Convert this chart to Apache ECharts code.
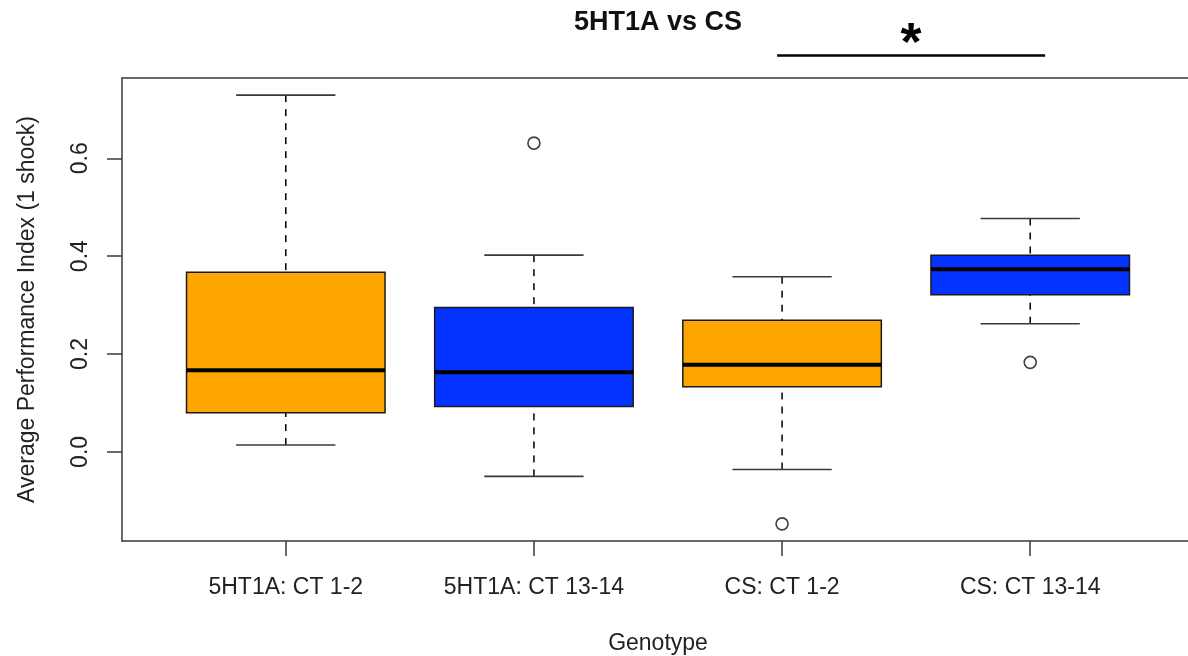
<!DOCTYPE html>
<html>
<head>
<meta charset="utf-8">
<script src="https://cdn.jsdelivr.net/npm/echarts@6/dist/echarts.min.js"></script>
<style>
  html, body { margin: 0; padding: 0; background: #fff; }
  #chart { width: 1188px; height: 656px; }
</style>
</head>
<body>
<div id="chart"></div>
<script>
// ---- data ----
const categories   = ['5HT1A: CT 1-2', '5HT1A: CT 13-14', 'CS: CT 1-2', 'CS: CT 13-14'];
const lowerWhisker = [0.014, -0.050, -0.036, 0.262];
const quartile1    = [0.080,  0.093,  0.133, 0.321];
const medians      = [0.167,  0.163,  0.178, 0.373];
const quartile3    = [0.367,  0.295,  0.269, 0.402];
const upperWhisker = [0.729,  0.402,  0.358, 0.477];
const outlierGroup = [2, 3, 4];
const outlierValue = [0.631, -0.147, 0.183];
const yTicks       = [0, 0.2, 0.4, 0.6];
const sigFrom      = 2.98;   // significance bar, x in group units
const sigTo        = 4.06;
const sigLevel     = 0.81;
const sigStarLevel = 0.831;
const sigLabel     = '*';

// ---- styles / layout ----
const FONT = '"Liberation Sans", Arial, Helvetica, sans-serif';
const fills = ['#FFA500', '#0433FF', '#FFA500', '#0433FF'];
const BOX_W = 0.8, CAP_W = 0.4;
const GRID_LEFT = 122, GRID_TOP = 78, GRID_W = 1072, GRID_BOTTOM = 115;
const X_MIN = 0.34, X_MAX = 4.66;   // plot region runs past the right edge of the picture
const Y_MIN = -0.182, Y_MAX = 0.764;
const FRAME = { color: '#3a3a3a', width: 1.5 };

const boxData = categories.map((c, i) =>
  [i + 1, lowerWhisker[i], quartile1[i], medians[i], quartile3[i], upperWhisker[i]]);
const outData = outlierGroup.map((g, i) => [g, outlierValue[i]]);

function renderBox(params, api) {
  const x = api.value(0);
  const lo = api.coord([x, api.value(1)]);
  const q1 = api.coord([x, api.value(2)]);
  const md = api.coord([x, api.value(3)]);
  const q3 = api.coord([x, api.value(4)]);
  const hi = api.coord([x, api.value(5)]);
  const bw = api.size([BOX_W, 0])[0];
  const cw = api.size([CAP_W, 0])[0];
  const cx = md[0];
  const dash = { stroke: '#000', lineWidth: 1.5, lineDash: [7, 7] };
  const cap = { stroke: '#3a3a3a', lineWidth: 1.6 };
  return {
    type: 'group',
    children: [
      { type: 'line', shape: { x1: cx, y1: hi[1], x2: cx, y2: q3[1] }, style: dash },
      { type: 'line', shape: { x1: cx, y1: lo[1], x2: cx, y2: q1[1] }, style: dash },
      { type: 'line', shape: { x1: cx - cw / 2, y1: hi[1], x2: cx + cw / 2, y2: hi[1] }, style: cap },
      { type: 'line', shape: { x1: cx - cw / 2, y1: lo[1], x2: cx + cw / 2, y2: lo[1] }, style: cap },
      { type: 'rect', shape: { x: cx - bw / 2, y: q3[1], width: bw, height: q1[1] - q3[1] },
        style: { fill: fills[params.dataIndex], stroke: '#1a1a1a', lineWidth: 1.5 } },
      { type: 'line', shape: { x1: cx - bw / 2, y1: md[1], x2: cx + bw / 2, y2: md[1] },
        style: { stroke: '#000', lineWidth: 4 } }
    ]
  };
}

function renderSig(params, api) {
  const a = api.coord([api.value(0), api.value(2)]);
  const b = api.coord([api.value(1), api.value(2)]);
  const s = api.coord([(api.value(0) + api.value(1)) / 2, api.value(3)]);
  return {
    type: 'group',
    children: [
      { type: 'line', shape: { x1: a[0], y1: a[1], x2: b[0], y2: b[1] },
        style: { stroke: '#000', lineWidth: 2.6 } },
      { type: 'text', x: s[0], y: s[1],
        style: { text: sigLabel, font: 'bold 54px ' + FONT, fill: '#000',
                 align: 'center', verticalAlign: 'middle' } }
    ]
  };
}

const chart = echarts.init(document.getElementById('chart'), null, { renderer: 'canvas' });
chart.setOption({
  animation: false,
  backgroundColor: '#fff',
  grid: { left: GRID_LEFT, top: GRID_TOP, width: GRID_W, bottom: GRID_BOTTOM,
          show: false, containLabel: false, outerBoundsMode: 'none' },
  graphic: [{
    type: 'text', x: GRID_LEFT + GRID_W / 2, y: 23,
    style: { text: '5HT1A vs CS', font: 'bold 27px ' + FONT, fill: '#111',
             align: 'center', verticalAlign: 'middle' }
  }],
  xAxis: [{
    type: 'value', min: X_MIN, max: X_MAX, position: 'bottom',
    name: 'Genotype', nameLocation: 'middle', nameGap: 91,
    nameTextStyle: { fontFamily: FONT, fontSize: 23, color: '#222' },
    axisLine: { show: true, onZero: false, lineStyle: FRAME },
    splitLine: { show: false },
    axisTick: { show: true, customValues: [1, 2, 3, 4], length: 15, lineStyle: FRAME },
    axisLabel: { customValues: [1, 2, 3, 4], margin: 35,
                 formatter: v => categories[Math.round(v) - 1],
                 fontFamily: FONT, fontSize: 23, color: '#222' }
  }, {
    type: 'value', min: X_MIN, max: X_MAX, position: 'top',
    axisLine: { show: true, onZero: false, lineStyle: FRAME },
    splitLine: { show: false }, axisTick: { show: false }, axisLabel: { show: false }
  }],
  yAxis: {
    type: 'value', min: Y_MIN, max: Y_MAX,
    name: 'Average Performance Index (1 shock)', nameLocation: 'middle', nameGap: 83,
    nameRotate: 90,
    nameTextStyle: { fontFamily: FONT, fontSize: 23, color: '#222' },
    axisLine: { show: true, onZero: false, lineStyle: FRAME },
    splitLine: { show: false },
    axisTick: { show: true, customValues: yTicks, length: 15, lineStyle: FRAME },
    axisLabel: { customValues: yTicks, rotate: 90, margin: 30,
                 formatter: v => v.toFixed(1),
                 fontFamily: FONT, fontSize: 23, color: '#222' }
  },
  series: [
    { type: 'custom', renderItem: renderBox, data: boxData, clip: false,
      encode: { x: 0, y: [1, 2, 3, 4, 5] } },
    { type: 'scatter', data: outData, symbol: 'circle', symbolSize: 12,
      itemStyle: { color: '#fff', borderColor: '#111', borderWidth: 1.6 } },
    { type: 'custom', renderItem: renderSig, clip: false,
      data: [[sigFrom, sigTo, sigLevel, sigStarLevel]],
      encode: { x: [0, 1], y: [2, 3] } }
  ]
});
</script>
</body>
</html>
